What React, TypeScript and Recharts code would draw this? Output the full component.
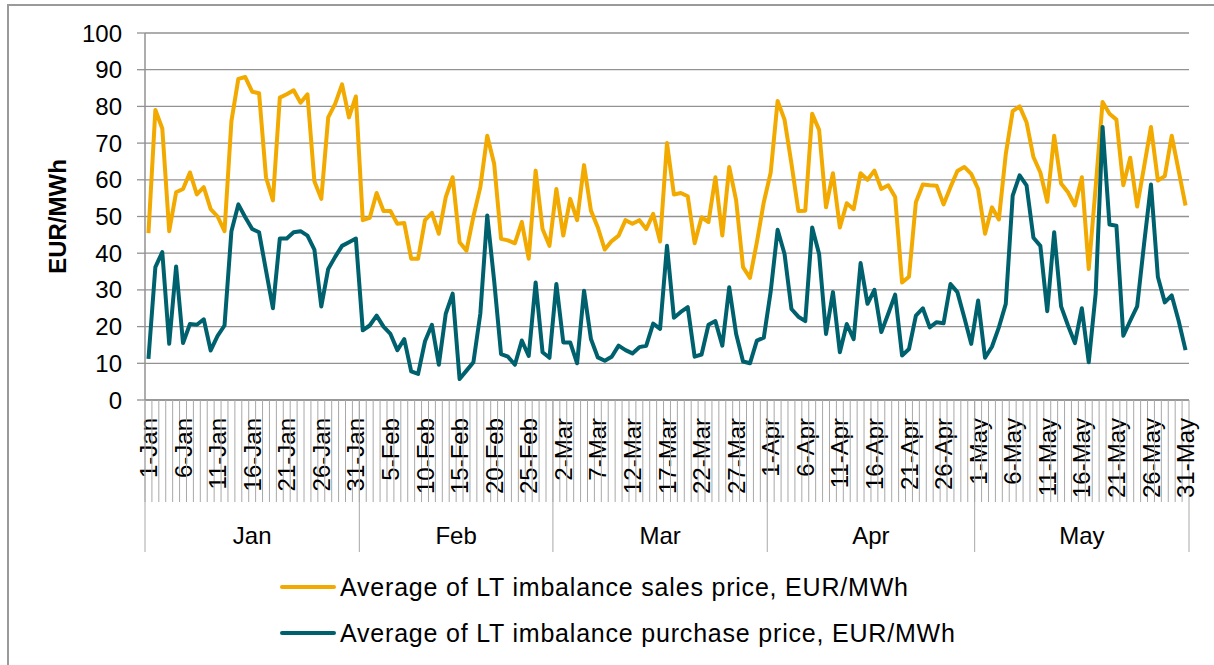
import React from 'react';
import { LineChart, Line, XAxis, YAxis, CartesianGrid } from 'recharts';

const months = ['Jan', 'Feb', 'Mar', 'Apr', 'May'];
const monthDays = [31, 28, 31, 30, 31];
const yTicks = [0, 10, 20, 30, 40, 50, 60, 70, 80, 90, 100];

// daily averages, EUR/MWh
const salesJan = [45.5, 79, 74, 46, 56.6, 57.5, 62, 56, 58, 52, 50, 46, 76, 87.5, 88, 84, 83.6, 60.7, 54.4, 82.4, 83.3, 84.4, 81, 83.3, 59.6, 54.8, 77, 80.7, 86, 77, 82.7];
const salesFeb = [49, 49.6, 56.4, 51.5, 51.5, 48, 48.2, 38.5, 38.5, 49, 51, 45.3, 55.3, 60.7, 43, 40.7, 50, 58, 72, 64.4, 43.9, 43.5, 42.7, 48.5, 38.5, 62.5, 46.6, 42];
const salesMar = [57.5, 44.8, 54.8, 49, 64, 51.6, 47, 41, 43.3, 44.8, 49, 48, 49, 46.6, 50.7, 43.2, 70, 56, 56.4, 55.5, 42.7, 49.8, 48.5, 60.7, 44.8, 63.5, 54.4, 36.2, 33.3, 43, 53.9];
const salesApr = [62, 81.5, 76.4, 64.4, 51.5, 51.6, 78, 73.6, 52.5, 61.8, 47, 53.6, 52, 61.8, 60, 62.5, 57.5, 58.5, 55.3, 32, 33.6, 53.9, 58.7, 58.5, 58.4, 53.3, 58, 62.4, 63.5, 61.6];
const salesMay = [57.5, 45.3, 52.5, 49.2, 67, 78.7, 80, 75.7, 66.2, 62, 54, 72, 59, 56.6, 53, 60.7, 35.7, 58, 81.2, 78, 76.4, 58.5, 66, 52.7, 63.5, 74.4, 59.8, 61, 72, 62.5, 53];

const purchJan = [11.2, 36.2, 40.3, 15.3, 36.4, 15.5, 20.7, 20.5, 22, 13.5, 17.5, 20.3, 46, 53.3, 49.8, 46.6, 45.7, 35.3, 25, 44, 44, 45.7, 46, 44.8, 41, 25.5, 35.7, 39, 42, 43, 44];
const purchFeb = [19, 20.3, 23, 20, 18, 13.6, 16.6, 7.8, 7.1, 16, 20.5, 9.6, 23.5, 29, 5.7, 8, 10.3, 23.5, 50.3, 32.5, 12.5, 11.8, 9.6, 16.2, 12, 32, 13, 11.5];
const purchMar = [31.6, 15.7, 15.7, 10, 29.8, 16.6, 11.6, 10.7, 11.8, 14.8, 13.6, 12.7, 14.4, 14.8, 20.8, 19.4, 42, 22.4, 24, 25.3, 11.8, 12.4, 20.5, 21.5, 14.8, 30.7, 18, 10.5, 10, 16.2, 17];
const purchApr = [29.6, 46.4, 39.8, 24.8, 22.7, 21.5, 47, 39.8, 18, 29.4, 13, 20.7, 16.6, 37.3, 26.2, 30, 18.5, 23.5, 28.7, 12.1, 13.9, 23, 25, 19.8, 21.2, 20.9, 31.6, 29.4, 22.5, 15.3];
const purchMay = [27.1, 11.5, 14.5, 19.8, 26.2, 55.7, 61.2, 58.5, 44.2, 42, 24.2, 45.7, 25.5, 20.3, 15.5, 25, 10.3, 29, 74.4, 47.8, 47.5, 17.5, 21.6, 25.5, 42.5, 58.7, 33.5, 26.6, 28.5, 21.6, 13.6];

const sales = [...salesJan, ...salesFeb, ...salesMar, ...salesApr, ...salesMay];
const purchase = [...purchJan, ...purchFeb, ...purchMar, ...purchApr, ...purchMay];

const days: { label: string; month: number; day: number }[] = [];
months.forEach((m, mi) => {
  for (let d = 1; d <= monthDays[mi]; d++) days.push({ label: `${d}-${m}`, month: mi, day: d });
});

const data = days.map((d, i) => ({ date: d.label, sales: sales[i], purchase: purchase[i] }));

const W = 1214;
const H = 665;
const LEFT = 145;
const RIGHT = 25;
const TOP = 33;
const BOTTOM = 265;
const AXIS_Y = H - BOTTOM;
const BAND = (W - LEFT - RIGHT) / data.length;
const FONT = '"Liberation Sans", Arial, sans-serif';
const GRID = '#929292';
const TICK = '#a8a8a8';
const YELLOW = '#F2A900';
const TEAL = '#00616E';

const DayTick = (props: any) => {
  const { x, payload } = props;
  const i = payload.index;
  const d = days[i];
  const half = BAND / 2;
  const ly = AXIS_Y + 18;
  const isLast = i === days.length - 1;
  return (
    <g>
      <line x1={x - half} x2={x - half} y1={AXIS_Y} y2={AXIS_Y + 102} stroke={TICK} strokeWidth={1} />
      {isLast && <line x1={x + half} x2={x + half} y1={AXIS_Y} y2={AXIS_Y + 152} stroke={TICK} strokeWidth={1} />}
      {i % 5 === 0 && (
        <text
          x={x}
          y={ly}
          transform={`rotate(-90 ${x} ${ly})`}
          textAnchor="end"
          dy="0.36em"
          fontSize={24}
          fontFamily={FONT}
          fill="#000"
        >
          {d.label}
        </text>
      )}
      {d.day === 1 && (
        <>
          <line x1={x - half} x2={x - half} y1={AXIS_Y} y2={AXIS_Y + 152} stroke={TICK} strokeWidth={1} />
          <text
            x={x - half + (monthDays[d.month] * BAND) / 2}
            y={AXIS_Y + 135}
            textAnchor="middle"
            dy="0.36em"
            fontSize={24}
            fontFamily={FONT}
            fill="#000"
          >
            {months[d.month]}
          </text>
        </>
      )}
    </g>
  );
};

const YLabel = ({ viewBox }: any) => {
  const cx = viewBox.x + 52;
  const cy = viewBox.y + viewBox.height / 2;
  return (
    <text
      x={cx}
      y={cy}
      transform={`rotate(-90 ${cx} ${cy})`}
      textAnchor="middle"
      dominantBaseline="central"
      fontSize={24}
      fontWeight="bold"
      fontFamily={FONT}
      fill="#000"
    >
      EUR/MWh
    </text>
  );
};

const legendItems = [
  { name: 'Average of LT imbalance sales price, EUR/MWh', color: YELLOW, top: 587 },
  { name: 'Average of LT imbalance purchase price, EUR/MWh', color: TEAL, top: 633 },
];

export default function App() {
  return (
    <div style={{ position: 'absolute', left: 0, top: 0, width: W, height: H, overflow: 'hidden', background: '#fff' }}>
      <div style={{ position: 'absolute', left: 7, top: 4, width: 1400, height: 900, border: '2px solid #9a9a9a' }} />
      <LineChart width={W} height={H} data={data} margin={{ top: TOP, right: RIGHT, left: 5, bottom: 5 }}>
        <CartesianGrid vertical={false} stroke={GRID} strokeWidth={1.3} />
        <XAxis
          dataKey="date"
          interval={0}
          height={BOTTOM - 5}
          tickLine={false}
          axisLine={{ stroke: GRID, strokeWidth: 1.3 }}
          tick={<DayTick />}
          padding={{ left: BAND / 2, right: BAND / 2 }}
        />
        <YAxis
          width={LEFT - 5}
          domain={[0, 100]}
          ticks={yTicks}
          interval={0}
          tickSize={8}
          tickMargin={15}
          axisLine={{ stroke: GRID, strokeWidth: 1.5 }}
          tickLine={{ stroke: GRID, strokeWidth: 1.3 }}
          tick={{ fontSize: 24, fill: '#000', fontFamily: FONT }}
          label={{ content: <YLabel /> }}
        />
        <Line
          type="linear"
          dataKey="sales"
          stroke={YELLOW}
          strokeWidth={4}
          dot={false}
          strokeLinejoin="round"
          isAnimationActive={false}
        />
        <Line
          type="linear"
          dataKey="purchase"
          stroke={TEAL}
          strokeWidth={4}
          dot={false}
          strokeLinejoin="round"
          isAnimationActive={false}
        />
      </LineChart>
      {legendItems.map((it) => (
        <div
          key={it.name}
          style={{
            position: 'absolute',
            left: 280,
            top: it.top - 16,
            height: 32,
            display: 'flex',
            alignItems: 'center',
            fontFamily: FONT,
            fontSize: 25,
            letterSpacing: 0.8,
            color: '#000',
            whiteSpace: 'nowrap',
          }}
        >
          <span style={{ display: 'inline-block', width: 56, height: 4, background: it.color, borderRadius: 2, marginRight: 4 }} />
          {it.name}
        </div>
      ))}
    </div>
  );
}
